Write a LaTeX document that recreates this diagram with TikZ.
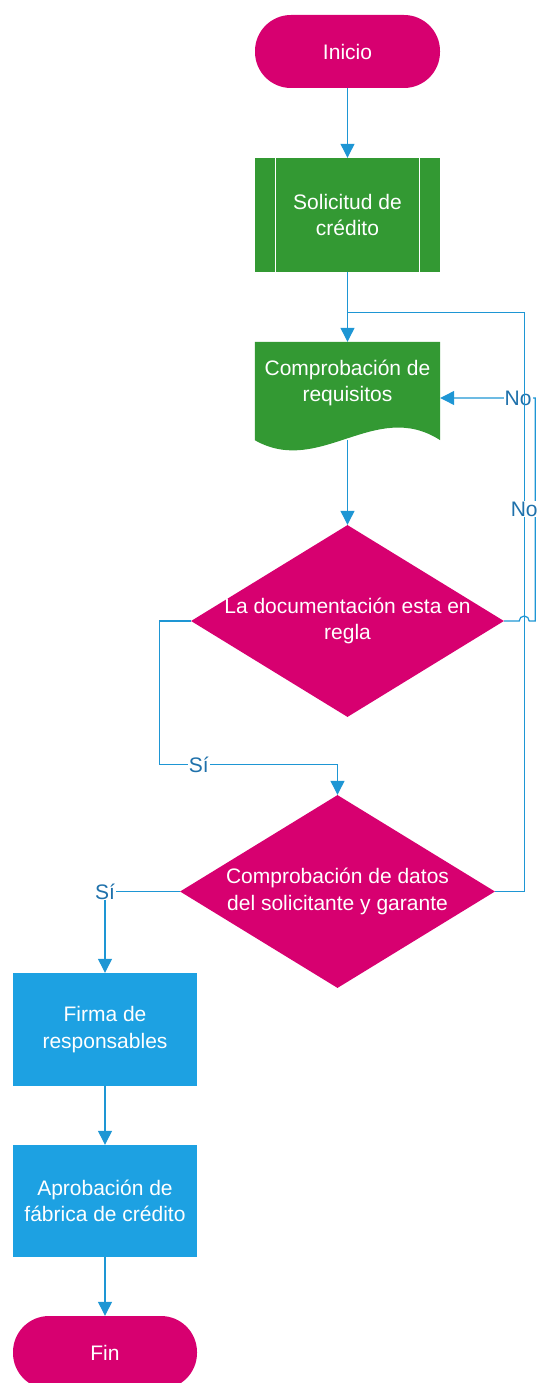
\documentclass[tikz,border=0pt]{standalone}
\usepackage{fontspec}
\setmainfont{Liberation Sans}
\usetikzlibrary{arrows.meta,shapes.geometric}
\definecolor{magentabox}{RGB}{215,0,112}
\definecolor{greenbox}{RGB}{51,153,51}
\definecolor{bluebox}{RGB}{29,161,226}
\definecolor{linkline}{RGB}{30,150,212}
\definecolor{linktext}{RGB}{31,113,171}
\tikzset{%
  >={Triangle[width=14pt,length=14pt]},
      base/.style = {rectangle, draw=none, text=white, inner sep=0pt,
                     minimum width=185pt, align=center,
                     font=\fontsize{21}{26.5}\selectfont},
  terminal/.style = {base, rounded corners=36pt, minimum height=73pt, fill=magentabox},
   predefd/.style = {base, minimum height=114pt, fill=greenbox},
   process/.style = {base, minimum width=184pt, minimum height=113pt, fill=bluebox},
    docsha/.style = {base, minimum height=98pt},
  decision/.style = {base, diamond, aspect=1.63, inner xsep=-14pt, inner ysep=0pt,
                     fill=magentabox},
      link/.style = {draw=linkline, line width=1.2pt},
    answer/.style = {fill=white, text=linktext, inner sep=1pt,
                     font=\fontsize{21}{24}\selectfont},
}
\begin{document}
\begin{tikzpicture}[x=1pt, y=1pt, node distance=1.5cm]

  \path[use as bounding box, clip] (0,0) rectangle (539,-1383);

  \node (inicio)  [terminal] at (347.5,-51.5)                           {Inicio};
  \node (solic)   [predefd, node distance=163.5pt, below of=inicio]     {Solicitud de\\crédito};
  \node (reqs)    [docsha,  node distance=176pt,   below of=solic]      {};
  \node (doc1)    [decision, minimum width=313pt, minimum height=192pt,
                   node distance=230pt, below of=reqs]                  {La documentación esta en\\regla};
  \node (doc2)    [decision, minimum width=315pt, minimum height=193pt,
                   node distance=270.5pt, below of=doc1, xshift=-10pt]  {Comprobación de datos\\del solicitante y garante};
  \node (firma)   [process, node distance=138pt, below of=doc2, xshift=-232.5pt] {Firma de\\responsables};
  \node (aprob)   [process, minimum height=112pt,
                   node distance=171.5pt, below of=firma]               {Aprobación de\\fábrica de crédito};
  \node (fin)     [terminal, minimum width=184pt,
                   node distance=151.5pt, below of=aprob]               {Fin};

  % predefined process bars
  \draw[white, line width=1.2pt] ([xshift=21pt]solic.north west) -- ([xshift=21pt]solic.south west);
  \draw[white, line width=1.2pt] ([xshift=-21pt]solic.north east) -- ([xshift=-21pt]solic.south east);

  % document shape
  \fill[greenbox] (reqs.north west) -- (reqs.north east) -- (reqs.south east)
        .. controls +(-65,42) and +(65,-37) .. (reqs.south west) -- cycle;
  \node (reqstxt) [base] at ([yshift=8pt]reqs.center) {Comprobación de\\requisitos};

  \coordinate (join) at ([yshift=-40pt]solic.south);

  \draw[link, ->] (inicio) -- (solic);
  \draw[link, ->] (solic)  -- (reqs);
  \draw[link, ->] (reqs.south) -- (doc1.north);
  \draw[link, ->] (doc1.west) -- ++(-31pt,0) |- ([yshift=30pt]doc2.north)
        node[answer, pos=0.61] {Sí} -- (doc2.north);
  \draw[link, ->] (doc1.east) -- ++(15pt,0) arc[start angle=180, end angle=0, radius=5pt]
        -- ++(6pt,0) |- node[answer, pos=0.59] {No} ([yshift=-7pt]reqs.east);
  \draw[link] (doc2.east) -- ++(29pt,0) |- node[answer, pos=0.33] {No} (join);
  \draw[link, ->] (doc2.west) -| node[answer] {Sí} (firma.north);
  \draw[link, ->] (firma) -- (aprob);
  \draw[link, ->] (aprob) -- (fin);
\end{tikzpicture}
\end{document}
